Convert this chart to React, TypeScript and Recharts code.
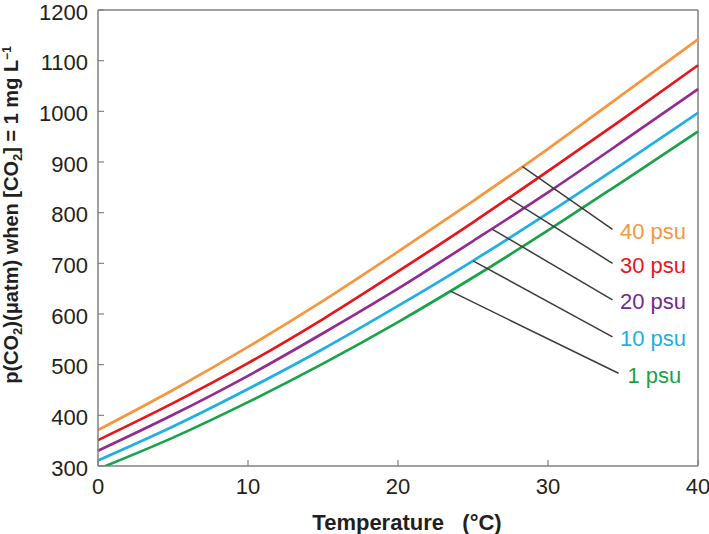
import React from 'react';
import { LineChart, Line, XAxis, YAxis, ReferenceLine, ReferenceDot } from 'recharts';

const temperatures = [0, 5, 10, 15, 20, 25, 30, 35, 40];
const psu40 = [371, 450, 535, 626, 723, 823, 926, 1034, 1142];
const psu30 = [351, 424, 503, 590, 684, 781, 882, 985, 1091];
const psu20 = [330, 401, 478, 562, 650, 744, 840, 941, 1044];
const psu10 = [311, 378, 452, 531, 616, 705, 799, 897, 997];
const psu1 = [294, 356, 426, 502, 584, 672, 765, 862, 960];

const xTicks = [0, 10, 20, 30, 40];
const yTicks = [300, 400, 500, 600, 700, 800, 900, 1000, 1100, 1200];

const seriesKeys = ['s40', 's30', 's20', 's10', 's1'];
const seriesNames = ['40 psu', '30 psu', '20 psu', '10 psu', '1 psu'];
const seriesColors = ['#F7963F', '#E8161C', '#952A8F', '#1EAFE3', '#18A349'];
const labelColors = ['#F7963F', '#E8161C', '#6E2C91', '#1EAFE3', '#18A349'];

const leaderStartT = [28.3, 27.4, 26.3, 25.0, 23.5];
const leaderStartV = [891, 828, 767, 705, 645];
const leaderEndT = [34.3, 34.3, 34.3, 34.3, 34.7];
const leaderEndV = [767, 700, 628, 555, 483];
const labelT = [34.8, 34.8, 34.8, 34.8, 35.3];
const labelV = [764, 697, 626, 553, 480];

const data = temperatures.map((t, i) => ({
  t,
  s40: psu40[i],
  s30: psu30[i],
  s20: psu20[i],
  s10: psu10[i],
  s1: psu1[i],
}));

const FONT = "'Liberation Sans', Arial, Helvetica, sans-serif";
const AXIS_GRAY = '#808080';
const TEXT = '#231F20';

const YTitle = () => {
  const cx = 11;
  const cy = 215;
  return (
    <text
      x={cx}
      y={cy}
      transform={`rotate(-90, ${cx}, ${cy})`}
      textAnchor="middle"
      dy="0.355em"
      fontFamily={FONT}
      fontWeight="bold"
      fontSize={20}
      fill={TEXT}
    >
      p(CO<tspan dy="4" fontSize={13}>2</tspan>
      <tspan dy="-4">)(μatm) when [CO</tspan>
      <tspan dy="4" fontSize={13}>2</tspan>
      <tspan dy="-4">] = 1 mg L</tspan>
      <tspan dy="-7" fontSize={12}>−1</tspan>
    </text>
  );
};

const XTitle = () => (
  <text
    x={407}
    y={530}
    textAnchor="middle"
    fontFamily={FONT}
    fontWeight="bold"
    fontSize={22}
    fill={TEXT}
  >
    {'Temperature\u00A0\u00A0\u00A0(°C)'}
  </text>
);

const YTick = (p: any) => (
  <text
    x={p.x}
    y={p.y + 2}
    dy="0.355em"
    textAnchor="end"
    fontFamily={FONT}
    fontSize={22}
    fill={TEXT}
  >
    {p.payload.value}
  </text>
);

export default function App() {
  return (
    <div style={{ position: 'absolute', left: 0, top: 0, background: '#fff' }}>
      <LineChart
        width={709}
        height={534}
        data={data}
        margin={{ top: 10, right: 11, left: 0, bottom: 0 }}
      >
        <XAxis
          dataKey="t"
          type="number"
          domain={[0, 40]}
          ticks={xTicks}
          interval={0}
          height={68}
          tickSize={-6}
          tickMargin={18}
          axisLine={{ stroke: AXIS_GRAY, strokeWidth: 1.5 }}
          tickLine={{ stroke: AXIS_GRAY, strokeWidth: 1.2 }}
          tick={{ fill: TEXT, fontSize: 22, fontFamily: FONT }}
          label={<XTitle />}
        />
        <YAxis
          type="number"
          domain={[300, 1200]}
          allowDataOverflow
          ticks={yTicks}
          interval={0}
          width={98}
          tickSize={-6}
          tickMargin={16}
          axisLine={{ stroke: AXIS_GRAY, strokeWidth: 1.5 }}
          tickLine={{ stroke: AXIS_GRAY, strokeWidth: 1.2 }}
          tick={<YTick />}
          label={<YTitle />}
        />
        <ReferenceLine y={1200} stroke={AXIS_GRAY} strokeWidth={1.5} />
        <ReferenceLine x={40} stroke={AXIS_GRAY} strokeWidth={1.5} />
        {seriesKeys.map((k, i) => (
          <Line
            key={k}
            dataKey={k}
            name={seriesNames[i]}
            type="monotone"
            stroke={seriesColors[i]}
            strokeWidth={2.7}
            dot={false}
            activeDot={false}
            isAnimationActive={false}
          />
        ))}
        {seriesKeys.map((k, i) => (
          <ReferenceLine
            key={`lead-${k}`}
            segment={[
              { x: leaderStartT[i], y: leaderStartV[i] },
              { x: leaderEndT[i], y: leaderEndV[i] },
            ]}
            stroke="#3C3C3C"
            strokeWidth={1.5}
            ifOverflow="visible"
          />
        ))}
        {seriesKeys.map((k, i) => (
          <ReferenceDot
            key={`lab-${k}`}
            x={labelT[i]}
            y={labelV[i]}
            r={0}
            ifOverflow="visible"
            shape={(p: any) => (
              <text
                x={p.cx}
                y={p.cy}
                dy="0.355em"
                fontFamily={FONT}
                fontSize={22}
                fill={labelColors[i]}
              >
                {seriesNames[i]}
              </text>
            )}
          />
        ))}
      </LineChart>
    </div>
  );
}
